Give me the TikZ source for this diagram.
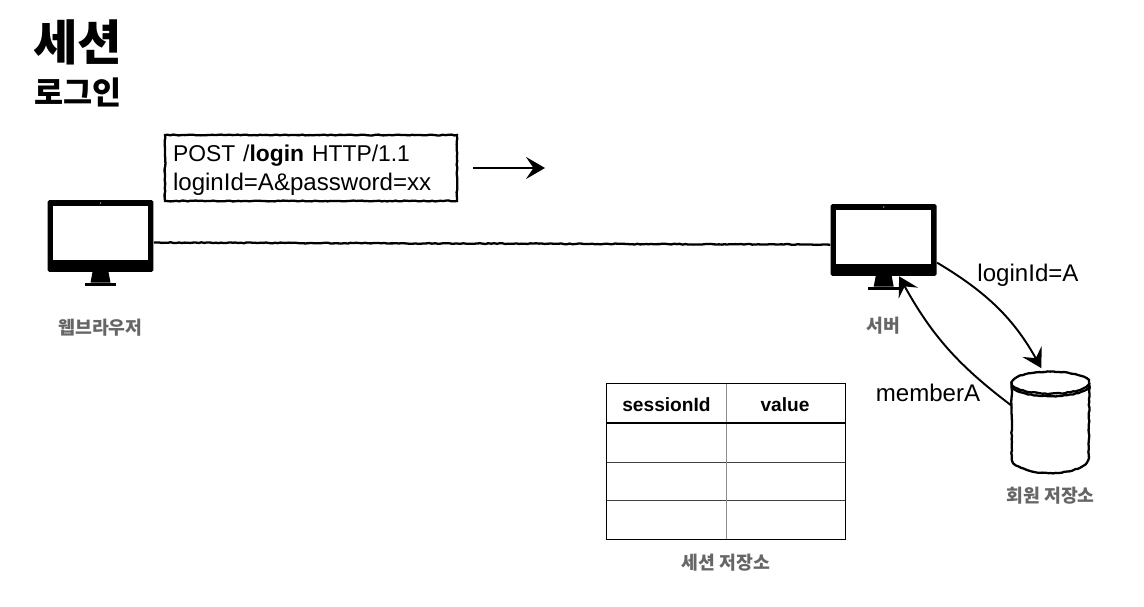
\documentclass[tikz,border=0pt]{standalone}
\usepackage{fontspec}
\setmainfont{Liberation Sans}
\newfontfamily\krfont{Noto Sans CJK KR}
\usetikzlibrary{calc, positioning, arrows.meta, decorations.pathmorphing}

\begin{document}
\begin{tikzpicture}[x=0.02cm, y=-0.02cm, >={Stealth[length=0.38cm, width=0.44cm, inset=0.15cm]}]
  \tikzset{
    sketchy/.style={decorate, decoration={random steps, segment length=1.6pt, amplitude=0.25pt}, line width=1.3pt},
    monitor/.style={fill=black, rounded corners=1pt, minimum width=2.12cm, minimum height=1.44cm, inner sep=0pt},
    title/.style={font=\krfont\bfseries\fontsize{27.5}{32}\selectfont},
    subtitle/.style={font=\krfont\bfseries\fontsize{18}{22}\selectfont},
    caption/.style={font=\krfont\bfseries\fontsize{10.4}{13}\selectfont, text=black!60, inner sep=0pt},
    label/.style={font=\fontsize{13.7}{16.5}\selectfont, inner sep=0pt},
    head/.style={font=\bfseries\fontsize{10.9}{13}\selectfont, inner sep=0pt}
  }
  \useasboundingbox (0,0) rectangle (1144,607);

  \node[title] (heading) at (78,42) {세션};
  \node[subtitle] (subheading) at (78,92) {로그인};

  \node[monitor] (browser) at (100.5,236) {};
  \node[monitor] (server) at (883.7,240) {};
  \foreach \m in {browser, server} {
    \fill[white] ($(\m.center)+(-47.5,-29.5)$) rectangle ($(\m.center)+(47.5,24.5)$);
    \fill[white] ($(\m.center)+(0,-33)$) circle (0.6);
    \fill[black] ($(\m.center)+(-8,36)$) -- ($(\m.center)+(8,36)$) -- ($(\m.center)+(10,46.7)$) -- ($(\m.center)+(-10,46.7)$) -- cycle;
    \fill[black] ($(\m.center)+(-15.5,46.7)$) rectangle ($(\m.center)+(15.5,49.7)$);
  }
  \node[caption, below=0.92cm of browser] (browsername) {웹브라우저};
  \node[caption, below=0.8cm of server] (servername) {서버};

  % request box with its loose arrow
  \node[draw, sketchy, minimum width=5.84cm, minimum height=1.32cm, inner sep=0pt] (request) at (311,168) {};
  \node[label, align=left, text width=5.52cm] (requesttext) at (311,170) {{\fontsize{13}{16.5}\selectfont POST /\textbf{login} HTTP/1.1}\\loginId=A\&password=xx};
  \coordinate (flowstart) at (473,168);
  \coordinate (flowend) at (545,168);
  \draw[->, line width=1.3pt] (flowstart) -- (flowend);

  \draw[sketchy] (browser.-7) -- (server.185);

  % member store, a plain box is the anchor for the cylinder lines
  \node[minimum width=1.54cm, minimum height=2.04cm, inner sep=0pt] (memberdb) at (1050.5,423) {};
  \coordinate (dbtop) at ($(memberdb.north)+(0,11)$);
  \draw[sketchy] (dbtop) ellipse [x radius=0.77cm, y radius=0.22cm];
  \draw[sketchy] ($(dbtop)+(-38.5,2.5)$) arc [start angle=180, end angle=360, x radius=0.77cm, y radius=0.22cm];
  \draw[sketchy] (memberdb.west |- dbtop) -- (memberdb.west |- 0,458) arc [start angle=180, end angle=360, x radius=0.77cm, y radius=0.3cm] -- (memberdb.east |- dbtop);
  \node[caption, below=0.24cm of memberdb] (dbname) {회원 저장소};

  \draw[->, line width=1.1pt, shorten >=0.08cm] (server.-23) to[bend left=15] (memberdb.98);
  \draw[->, line width=1.1pt] (memberdb.156) to[bend left=12] (server.-67);
  \node[label] (findid) at (1028,275) {loginId=A};
  \node[label] (findmember) at (928,393) {memberA};

  % session table
  \node[minimum width=4.76cm, minimum height=3.1cm, inner sep=0pt] (sessiontable) at (726,461.5) {};
  \foreach \y in {462, 500} {
    \draw[black!75, line width=0.4pt] (sessiontable.west |- 0,\y) -- (sessiontable.east |- 0,\y);
  }
  \draw[black!45, line width=0.5pt] (sessiontable.north) -- (sessiontable.south);
  \draw[line width=0.9pt] (sessiontable.west |- 0,423) -- (sessiontable.east |- 0,423);
  \draw[line width=0.9pt] (sessiontable.south west) rectangle (sessiontable.north east);
  \node[head] (sessioncol) at (666.5,405) {sessionId};
  \node[head] (valuecol) at (785,405) {value};
  \node[caption, below=0.28cm of sessiontable] (tablename) {세션 저장소};
\end{tikzpicture}
\end{document}
